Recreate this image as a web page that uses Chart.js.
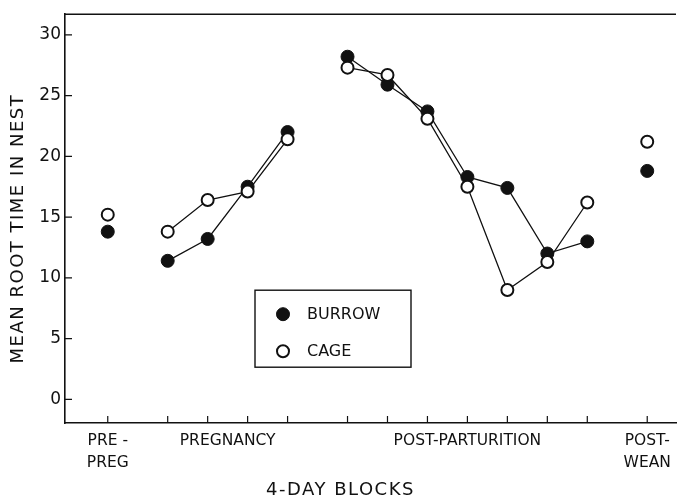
<!DOCTYPE html>
<html>
<head>
<meta charset="utf-8">
<script src="https://cdn.jsdelivr.net/npm/chart.js@4/dist/chart.umd.min.js"></script>
<style>
  html, body { margin: 0; padding: 0; background: #fff; }
  #wrap { width: 684px; height: 500px; }
</style>
</head>
<body>
<div id="wrap"><canvas id="chart" width="684" height="500"></canvas></div>
<script>
// 4-day blocks, position on the x scale, and the phase each block belongs to
const blockX = [0, 1.5, 2.5, 3.5, 4.5, 6, 7, 8, 9, 10, 11, 12, 13.5];
const blockGroup = [0, 1, 1, 1, 1, 2, 2, 2, 2, 2, 2, 2, 3];
const groupLabels = [['PRE -', 'PREG'], 'PREGNANCY', 'POST-PARTURITION', ['POST-', 'WEAN']];

// mean root time in nest
const burrow = [13.8, 11.4, 13.2, 17.5, 22.0, 28.2, 25.9, 23.7, 18.3, 17.4, 12.0, 13.0, 18.8];
const cage = [15.2, 13.8, 16.4, 17.1, 21.4, 27.3, 26.7, 23.1, 17.5, 9.0, 11.3, 16.2, 21.2];

const yTicks = [0, 5, 10, 15, 20, 25, 30];

const xTitle = '4-DAY BLOCKS';
const yTitle = 'MEAN ROOT TIME IN NEST';

const FONT = '"DejaVu Sans", "Liberation Sans", Arial, sans-serif';
const INK = '#111';

// points of one phase are joined, phases are kept apart with a null
function toPoints(values) {
    const pts = [];
    values.forEach((v, i) => {
        if (i > 0 && blockGroup[i] != blockGroup[i - 1]) {
            pts.push({x: (blockX[i] + blockX[i - 1]) / 2, y: null});
        }
        pts.push({x: blockX[i], y: v});
    });
    return pts;
}

const groupCenters = groupLabels.map((l, g) => {
    const xs = blockX.filter((x, i) => blockGroup[i] == g);
    return (xs[0] + xs[xs.length - 1]) / 2;
});

const frame = {
    id: 'frame',
    afterDraw(chart) {
        const ctx = chart.ctx;
        const a = chart.chartArea;
        const xs = chart.scales.x;
        const ys = chart.scales.y;
        ctx.save();
        ctx.strokeStyle = INK;
        ctx.lineWidth = 1.5;
        // top rule
        ctx.beginPath();
        ctx.moveTo(a.left, a.top);
        ctx.lineTo(a.right, a.top);
        ctx.stroke();
        // inward tick marks
        ctx.lineWidth = 1.2;
        ctx.beginPath();
        yTicks.forEach(v => {
            const py = ys.getPixelForValue(v);
            ctx.moveTo(a.left, py);
            ctx.lineTo(a.left + 7, py);
        });
        blockX.forEach(v => {
            const px = xs.getPixelForValue(v);
            ctx.moveTo(px, a.bottom);
            ctx.lineTo(px, a.bottom - 7);
        });
        ctx.stroke();

        // axis titles, letter-spaced like the original lettering
        ctx.fillStyle = INK;
        ctx.textAlign = 'center';
        ctx.textBaseline = 'middle';
        ctx.letterSpacing = '1.5px';
        ctx.font = '18px ' + FONT;
        ctx.fillText(xTitle, (a.left + a.right) / 2 - 30, 490);
        ctx.save();
        ctx.translate(18, (a.top + a.bottom) / 2 + 10);
        ctx.rotate(-Math.PI / 2);
        ctx.fillText(yTitle, 0, 0);
        ctx.restore();
        ctx.letterSpacing = '0px';

        // legend box
        const bx = a.left + 190, by = a.top + 276, bw = 156, bh = 77;
        ctx.lineWidth = 1.4;
        ctx.strokeRect(bx, by, bw, bh);
        ctx.font = '16px ' + FONT;
        ctx.textAlign = 'left';
        [chart.data.datasets[1], chart.data.datasets[0]].forEach((ds, i) => {
            const cy = by + 24 + i * 37;
            ctx.beginPath();
            ctx.arc(bx + 28, cy, ds.pointRadius, 0, Math.PI * 2);
            ctx.fillStyle = ds.pointBackgroundColor;
            ctx.fill();
            ctx.lineWidth = ds.pointBorderWidth;
            ctx.stroke();
            ctx.fillStyle = INK;
            ctx.fillText(ds.label, bx + 52, cy + 1);
        });
        ctx.restore();
    }
};

new Chart(document.getElementById('chart'), {
    type: 'line',
    data: {
        datasets: [
            {
                label: 'CAGE',
                data: toPoints(cage),
                order: 0,
                borderColor: INK,
                borderWidth: 1.3,
                pointRadius: 6,
                pointBorderWidth: 2,
                pointBackgroundColor: '#fff',
                pointBorderColor: INK,
                spanGaps: false
            },
            {
                label: 'BURROW',
                data: toPoints(burrow),
                order: 1,
                borderColor: INK,
                borderWidth: 1.3,
                pointRadius: 6.5,
                pointBorderWidth: 1,
                pointBackgroundColor: INK,
                pointBorderColor: INK,
                spanGaps: false
            }
        ]
    },
    options: {
        responsive: false,
        animation: false,
        layout: {padding: {top: 8, right: 0, left: 0, bottom: 0}},
        plugins: {
            legend: {display: false},
            tooltip: {enabled: false}
        },
        scales: {
            x: {
                type: 'linear',
                min: -1.07,
                max: 14.22,
                afterBuildTicks: axis => {
                    axis.ticks = groupCenters.map(v => ({value: v}));
                },
                afterFit: axis => { axis.height = 77; },
                grid: {display: false, drawTicks: false},
                border: {display: true, color: INK, width: 1.6},
                ticks: {
                    autoSkip: false,
                    maxRotation: 0,
                    padding: 7,
                    color: INK,
                    font: {family: FONT, size: 15.5, lineHeight: 1.4},
                    callback: (v, i) => groupLabels[i]
                }
            },
            y: {
                min: -1.95,
                max: 31.7,
                afterBuildTicks: axis => {
                    axis.ticks = yTicks.map(v => ({value: v}));
                },
                afterFit: axis => { axis.width = 65; },
                grid: {display: false, drawTicks: false},
                border: {display: true, color: INK, width: 1.6},
                ticks: {
                    padding: 4,
                    color: INK,
                    font: {family: FONT, size: 17}
                }
            }
        }
    },
    plugins: [frame]
});
</script>
</body>
</html>
